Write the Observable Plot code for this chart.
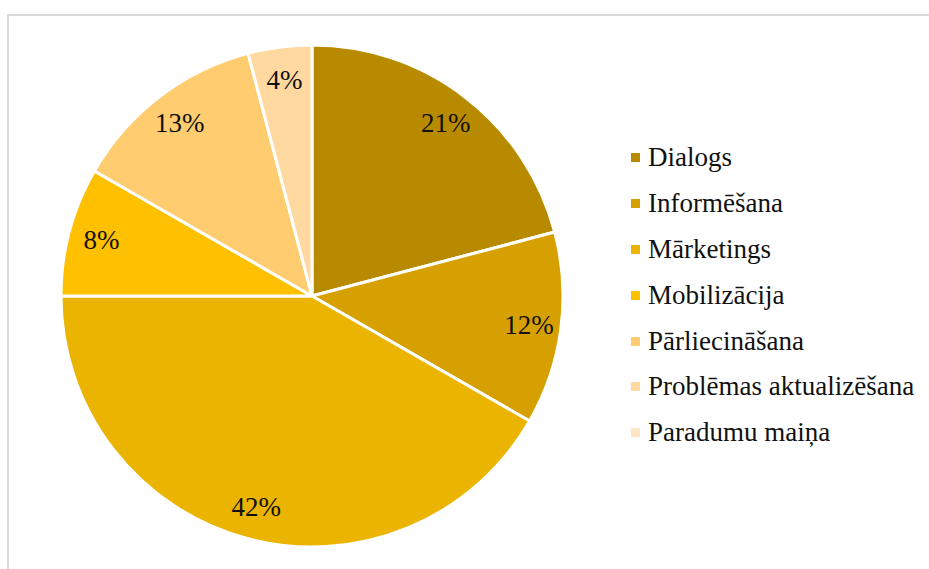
<!DOCTYPE html>
<html>
<head>
<meta charset="utf-8">
<script src="https://cdn.jsdelivr.net/npm/d3@7"></script>
<script src="https://cdn.jsdelivr.net/npm/@observablehq/plot@0.6"></script>
<style>
  body { margin: 0; background: #fff; font-family: 'Liberation Serif', 'DejaVu Serif', serif; }
  #wrap { position: relative; width: 929px; height: 569px; overflow: hidden; background: #fff; }
  #chart { position: absolute; left: 0; top: 0; }
  #chart text { font-family: 'Liberation Serif', 'DejaVu Serif', serif !important; }
  #frame { position: absolute; left: 7px; top: 14px; width: 1000px; height: 700px; border: 2px solid #d9d9d9; pointer-events: none; }
  #legend { position: absolute; left: 631px; top: 135px; }
  #legend, #legend * { font-family: 'Liberation Serif', 'DejaVu Serif', serif !important; }
  #legend > div { font-size: 27px !important; color: #111 !important; margin: 0 !important; }
  #legend > div > div { height: 45.8px; padding: 0 !important; margin: 0 !important; display: flex; align-items: center; }
  #legend svg { margin-right: 8px !important; }
</style>
</head>
<body>
<div id="wrap">
  <div id="chart"></div>
  <div id="legend"></div>
  <div id="frame"></div>
</div>
<script>
// Data (percent shares)
const categories = ["Dialogs", "Informēšana", "Mārketings", "Mobilizācija", "Pārliecināšana", "Problēmas aktualizēšana", "Paradumu maiņa"];
const values = [20.9, 12.4, 41.7, 8.3, 12.6, 4.1, 0];
const colors = ["#b88a00", "#d6a100", "#eab400", "#ffc000", "#ffcc70", "#ffd9a0", "#ffe4c6"];

const serif = "'Liberation Serif', 'DejaVu Serif', serif";

const slices = categories.map((name, i) => ({name, value: values[i]}));
const arcs = d3.pie().sort(null).value(d => d.value).startAngle(0).endAngle(2 * Math.PI)(slices);
const labelR = 0.87;
const labels = arcs
  .filter(a => a.data.value > 0)
  .map(a => {
    const mid = (a.startAngle + a.endAngle) / 2;
    return {name: a.data.name, text: Math.round(a.data.value) + "%", x: labelR * Math.sin(mid), y: labelR * Math.cos(mid)};
  });

const colorOptions = {type: "ordinal", domain: categories, range: colors};

function pieMark(index, scales) {
  const cx = scales.x(0), cy = scales.y(0);
  const R = scales.x(1) - cx;
  const colorFn = scales.color || (n => colors[categories.indexOf(n)]);
  const arc = d3.arc().innerRadius(0).outerRadius(R);
  const g = d3.create("svg:g").attr("transform", `translate(${cx},${cy})`);
  g.selectAll("path")
    .data(arcs.filter(a => a.data.value > 0))
    .join("path")
    .attr("d", arc)
    .attr("fill", d => colorFn(d.data.name))
    .attr("stroke", "#fff")
    .attr("stroke-width", 3)
    .attr("stroke-linejoin", "round");
  return g.node();
}

const plot = Plot.plot({
  width: 929,
  height: 569,
  margin: 0,
  style: {background: "transparent", fontFamily: serif},
  x: {domain: [-1, 1], range: [61, 563], axis: null},
  y: {domain: [-1, 1], range: [547, 45], axis: null},
  color: colorOptions,
  marks: [
    Plot.dot(slices, {x: () => 0, y: () => 0, fill: "name", r: 0}),
    pieMark,
    Plot.text(labels, {x: "x", y: "y", text: "text", fontSize: 27, fontFamily: serif, fill: "#111"})
  ]
});
document.getElementById("chart").appendChild(plot);

const legend = Plot.legend({
  color: colorOptions,
  legend: "swatches",
  columns: 1,
  swatchSize: 9,
  style: {fontSize: "27px", fontFamily: serif, color: "#111"}
});
document.getElementById("legend").appendChild(legend);
</script>
</body>
</html>
